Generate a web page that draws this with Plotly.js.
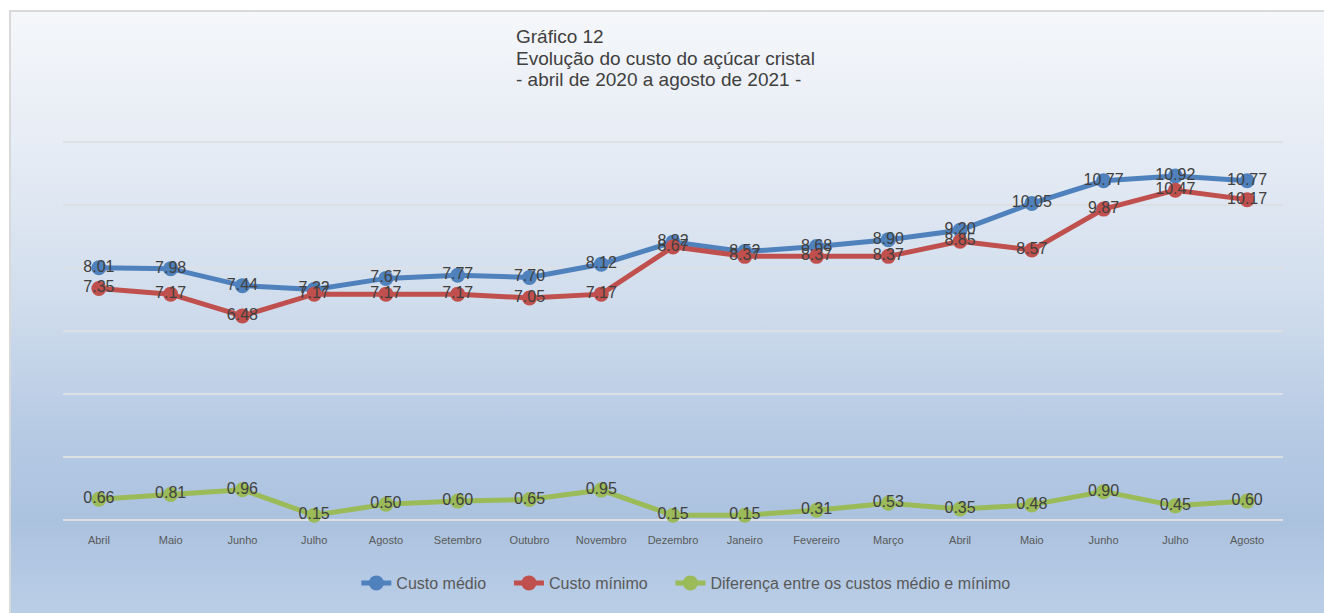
<!DOCTYPE html>
<html>
<head>
<meta charset="utf-8">
<script src="https://cdn.plot.ly/plotly-3.0.1.min.js"></script>
<style>
html,body{margin:0;padding:0;width:1324px;height:613px;background:#ffffff;overflow:hidden;}
#frame{position:absolute;left:9px;top:10px;width:1330px;height:620px;border-left:2px solid #d9d9d9;border-top:2px solid #d9d9d9;
background:linear-gradient(to bottom,#f5f7fa 0%,#e6ecf5 22%,#d2deed 45%,#b6cae4 68%,#abc2df 82%,#bdd0e8 100%);}
#chart{position:absolute;left:0;top:0;width:1324px;height:613px;}
</style>
</head>
<body>
<div id="frame"></div>
<div id="chart"></div>
<script>
var titleLines = ["Gráfico 12","Evolução do custo do açúcar cristal","- abril de 2020 a agosto de 2021 -"];
var months = ["Abril","Maio","Junho","Julho","Agosto","Setembro","Outubro","Novembro","Dezembro","Janeiro","Fevereiro","Março","Abril","Maio","Junho","Julho","Agosto"];
var custoMedio = [8.01,7.98,7.44,7.32,7.67,7.77,7.70,8.12,8.82,8.52,8.68,8.90,9.20,10.05,10.77,10.92,10.77];
var custoMinimo = [7.35,7.17,6.48,7.17,7.17,7.17,7.05,7.17,8.67,8.37,8.37,8.37,8.85,8.57,9.87,10.47,10.17];
var diferenca = [0.66,0.81,0.96,0.15,0.50,0.60,0.65,0.95,0.15,0.15,0.31,0.53,0.35,0.48,0.90,0.45,0.60];
var seriesNames = ["Custo médio","Custo mínimo","Diferença entre os custos médio e mínimo"];
var colors = ["#4f81bd","#c0504d","#9bbb59"];

var FONT = "Liberation Sans, Arial, sans-serif";
var PAD = "\u00a0\u00a0\u00a0\u00a0";
var xs = months.map(function(_, i){ return i; });
function trace(y, name, color){
  return {
    x: xs, y: y, name: name, type: "scatter", mode: "lines+markers+text",
    line: {color: color, width: 5},
    marker: {color: color, size: 15},
    text: y.map(function(v){ return v.toFixed(2); }),
    textposition: "middle center",
    textfont: {family: FONT, size: 16, color: "#404040"},
    hoverinfo: "none", cliponaxis: false
  };
}
var data = [
  trace(custoMedio, seriesNames[0] + PAD, colors[0]),
  trace(custoMinimo, seriesNames[1] + PAD, colors[1]),
  trace(diferenca, seriesNames[2], colors[2])
];

// plot area: top 142px (value 12), bottom 520px (value 0)
var plotTop = 140, plotBottom = 520;
var yMax = 12 * (plotBottom - plotTop) / 378;
function paperY(px){ return (plotBottom - px) / (plotBottom - plotTop); }
var titleY = [36, 58, 79];
var annotations = titleLines.map(function(t, i){
  return {
    text: t, xref: "paper", yref: "paper",
    x: (514 - 63) / (1283 - 63), y: paperY(titleY[i]),
    xanchor: "left", yanchor: "middle", showarrow: false, align: "left",
    font: {family: FONT, size: 19, color: "#404040"}
  };
});

var layout = {
  width: 1324, height: 613,
  paper_bgcolor: "rgba(0,0,0,0)", plot_bgcolor: "rgba(0,0,0,0)",
  margin: {l: 63, r: 41, t: plotTop, b: 613 - plotBottom},
  showlegend: true,
  annotations: annotations,
  xaxis: {
    range: [-0.5, 16.5], tickmode: "array", tickvals: xs, ticktext: months,
    showgrid: false, zeroline: false, showline: false, ticks: "",
    ticklabelstandoff: 12,
    tickfont: {family: FONT, size: 11, color: "#595959"},
    fixedrange: true
  },
  yaxis: {
    range: [0, yMax], tickmode: "linear", tick0: 0, dtick: 2, showticklabels: false, showgrid: true,
    gridcolor: "#dcdfe4", gridwidth: 2, zeroline: true, zerolinecolor: "#dcdfe4", zerolinewidth: 2,
    showline: false, ticks: "", fixedrange: true
  },
  legend: {
    orientation: "h", x: 0.518, xanchor: "center", xref: "container",
    y: 1 - 566/613, yanchor: "top", yref: "container",
    font: {family: FONT, size: 16, color: "#595959"},
    bgcolor: "rgba(0,0,0,0)", itemwidth: 30, tracegroupgap: 0
  }
};
Plotly.newPlot("chart", data, layout, {displayModeBar: false, staticPlot: true});
</script>
</body>
</html>
